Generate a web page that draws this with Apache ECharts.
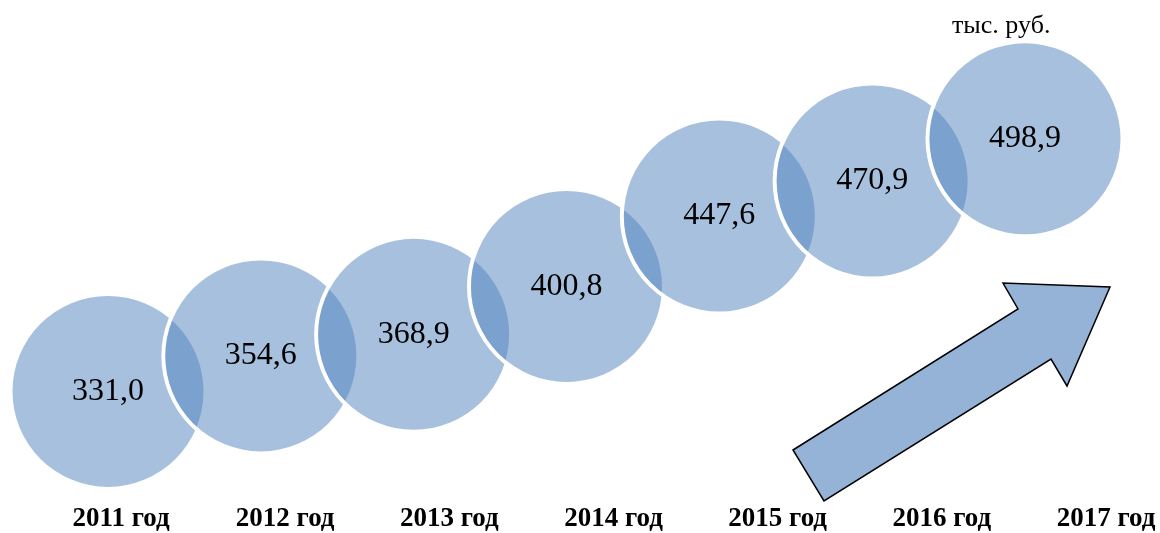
<!DOCTYPE html>
<html>
<head>
<meta charset="utf-8">
<script src="https://cdn.jsdelivr.net/npm/echarts@6/dist/echarts.min.js"></script>
<style>
html,body{margin:0;padding:0;background:#fff;}
#chart{width:1160px;height:533px;}
</style>
</head>
<body>
<div id="chart"></div>
<script>
// ---- data ----
const years = ['2011 год', '2012 год', '2013 год', '2014 год', '2015 год', '2016 год', '2017 год'];
const values = [331.0, 354.6, 368.9, 400.8, 447.6, 470.9, 498.9];
const unitText = 'тыс. руб.';

// ---- build ----
const fmt = v => v.toFixed(1).replace('.', ',');
const FONT = '"Liberation Serif", "Times New Roman", serif';
const DIAM = 191;

const series = [];
values.forEach((v, i) => {
  const data = years.map((y, j) => j === i ? [j, v] : null).filter(d => d);
  // white outline ring (drawn before this circle's fill, over previous circle)
  series.push({
    type: 'scatter', xAxisIndex: 0, yAxisIndex: 0, silent: true,
    z: 2 + 2 * i, symbol: 'circle', symbolSize: DIAM + 4,
    itemStyle: { color: 'rgba(0,0,0,0)', borderColor: '#ffffff', borderWidth: 4, opacity: 1 },
    data: data
  });
  // semi-transparent circle with value label
  series.push({
    type: 'scatter', xAxisIndex: 0, yAxisIndex: 0, silent: true,
    z: 3 + 2 * i, symbol: 'circle', symbolSize: DIAM,
    itemStyle: { color: 'rgba(79,129,189,0.5)', borderWidth: 0, opacity: 1 },
    label: {
      show: true, position: 'inside', formatter: p => fmt(p.value[1]),
      fontFamily: FONT, fontSize: 32, color: '#000'
    },
    data: data
  });
});
// year labels series (invisible, only to host the second axis)
series.push({
  type: 'scatter', xAxisIndex: 1, yAxisIndex: 1, silent: true, symbolSize: 0,
  data: years.map((y, j) => [j, 0])
});

const chart = echarts.init(document.getElementById('chart'), null, { renderer: 'canvas' });
chart.setOption({
  animation: false,
  backgroundColor: '#ffffff',
  tooltip: { show: false },
  grid: [
    { left: 108, right: 135, top: 62, bottom: 95 },
    { left: 121, right: 54, top: 0, bottom: 20 }
  ],
  xAxis: [
    { gridIndex: 0, type: 'category', data: years, boundaryGap: false, show: false },
    { gridIndex: 1, type: 'category', data: years, boundaryGap: false,
      axisLine: { show: false }, axisTick: { show: false }, splitLine: { show: false },
      axisLabel: { show: true, interval: 0, margin: 2, fontFamily: FONT, fontSize: 27,
        fontWeight: 'bold', color: '#000' } }
  ],
  yAxis: [
    { gridIndex: 0, type: 'value', min: 300, max: 550, show: false },
    { gridIndex: 1, type: 'value', min: 0, max: 1, show: false }
  ],
  graphic: [
    {
      type: 'polygon', z: 50,
      shape: { points: [[793, 450], [1018, 309], [1003, 283], [1110, 287], [1067, 386], [1051, 359], [824, 501]] },
      style: { fill: '#95b3d7', stroke: '#000', lineWidth: 1.5 }
    },
    {
      type: 'text', z: 50, left: 952, top: 13,
      style: { text: unitText, font: '26px ' + FONT, fill: '#000' }
    }
  ],
  series: series
});
</script>
</body>
</html>
